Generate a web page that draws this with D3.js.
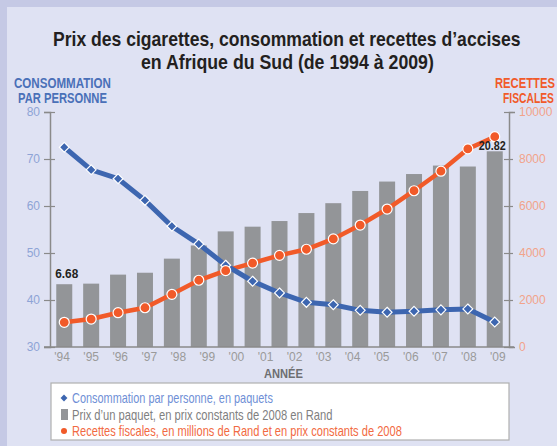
<!DOCTYPE html>
<html>
<head>
<meta charset="utf-8">
<script src="https://cdn.jsdelivr.net/npm/d3@7"></script>
<style>
  body { margin: 0; background: #c5c9e5; }
  svg { display: block; }
  text { font-family: "Liberation Sans", Arial, sans-serif; }
</style>
</head>
<body>
<div id="chart"></div>
<script>
/* Prix des cigarettes, consommation et recettes - Afrique du Sud */

// data points as drawn (17 marks), year labels (16)
const points = d3.range(17);
const yearLabels = ["'94", "'95", "'96", "'97", "'98", "'99", "'00", "'01", "'02", "'03", "'04", "'05", "'06", "'07", "'08", "'09"];
const consumption = [72.5, 67.7, 65.8, 61.2, 55.7, 51.9, 47.4, 44.0, 41.5, 39.5, 39.0, 37.8, 37.4, 37.6, 37.9, 38.1, 35.3];
const price = [6.68, 6.74, 7.7, 7.9, 9.4, 10.8, 12.3, 12.8, 13.4, 14.25, 15.3, 16.6, 17.6, 18.4, 19.3, 19.2, 20.82];
const revenue = [1050, 1190, 1460, 1670, 2240, 2840, 3250, 3570, 3900, 4160, 4600, 5190, 5870, 6650, 7480, 8430, 8950];
const leftTicks = [30, 40, 50, 60, 70, 80];
const rightTicks = [0, 2000, 4000, 6000, 8000, 10000];

const width = 557, height = 446,
      margin = ({ top: 112, right: 48, bottom: 99, left: 50 });

const blue = "#3d66b0", orange = "#f15a29", grey = "#939598";

let svg = d3.select("#chart")
    .append("svg")
    .attr("width", width)
    .attr("height", height);

// condensed look: squeeze text horizontally to a given width
function fit(sel, len) {
    let x0 = +sel.attr("x"), y0 = +sel.attr("y");
    let w = sel.node().getComputedTextLength();
    sel.attr("x", 0).attr("y", 0)
       .attr("transform", `translate(${x0},${y0}) scale(${len / w},1)`);
    return sel;
}

// background panel
svg.append("rect")
    .attr("x", 7).attr("y", 7)
    .attr("width", width - 7).attr("height", height - 7)
    .attr("fill", "#dfe2f3");

let x = d3.scalePoint() // marks
    .domain(points)
    .range([margin.left, width - margin.right])
    .padding(0.53);

let xLab = d3.scalePoint() // year labels
    .domain(yearLabels)
    .range([margin.left, width - margin.right])
    .padding(0.4);

let yLeft = d3.scaleLinear().domain([30, 80]).range([height - margin.bottom, margin.top]);
let yRight = d3.scaleLinear().domain([0, 10000]).range([height - margin.bottom, margin.top]);
let yBar = d3.scaleLinear().domain([0, 25]).range([height - margin.bottom, margin.top]);

// title
fit(svg.append("text")
    .attr("x", 53).attr("y", 46)
    .style("font-size", "20px").style("font-weight", "bold").style("fill", "#231f20")
    .text("Prix des cigarettes, consommation et recettes d’accises"), 468);
fit(svg.append("text")
    .attr("x", 141).attr("y", 69)
    .style("font-size", "20px").style("font-weight", "bold").style("fill", "#231f20")
    .text("en Afrique du Sud (de 1994 à 2009)"), 293);

// axis titles
fit(svg.append("text")
    .attr("x", 14).attr("y", 88)
    .style("font-size", "14px").style("font-weight", "bold").style("fill", "#4a70b8")
    .text("CONSOMMATION"), 97);
fit(svg.append("text")
    .attr("x", 18).attr("y", 103)
    .style("font-size", "14px").style("font-weight", "bold").style("fill", "#4a70b8")
    .text("PAR PERSONNE"), 89);
fit(svg.append("text")
    .attr("x", 495).attr("y", 88)
    .style("font-size", "14px").style("font-weight", "bold").style("fill", orange)
    .text("RECETTES"), 60);
fit(svg.append("text")
    .attr("x", 503).attr("y", 103)
    .style("font-size", "14px").style("font-weight", "bold").style("fill", orange)
    .text("FISCALES"), 51);

// bars
svg.append("g")
    .selectAll("rect")
    .data(points)
    .join("rect")
    .attr("fill", grey)
    .attr("x", i => x(i) - 8)
    .attr("width", 16)
    .attr("y", i => yBar(price[i]))
    .attr("height", i => yBar(0) - yBar(price[i]));

// left axis
let gl = svg.append("g")
    .attr("transform", `translate(${margin.left},0)`)
    .call(d3.axisLeft(yLeft).tickValues(leftTicks).tickSize(6).tickPadding(4));
gl.select(".domain").attr("stroke", "#8a8a8a").attr("stroke-width", 1.5);
gl.selectAll(".tick line").attr("stroke", "#8a8a8a").attr("stroke-width", 1.2).attr("x2", 5).attr("x1", -6);
gl.selectAll(".tick text").style("fill", "#8ea4d6").style("font-size", "12px")
    .style("font-family", "'Liberation Sans', Arial, sans-serif");

// right axis
let gr = svg.append("g")
    .attr("transform", `translate(${width - margin.right},0)`)
    .call(d3.axisRight(yRight).tickValues(rightTicks).tickFormat(d3.format("d")).tickSize(6).tickPadding(4));
gr.select(".domain").attr("stroke", "#8a8a8a").attr("stroke-width", 1.5);
gr.selectAll(".tick line").attr("stroke", "#8a8a8a").attr("stroke-width", 1.2).attr("x1", -5).attr("x2", 4);
gr.selectAll(".tick text").style("fill", "#f2a38a").style("font-size", "12px")
    .style("font-family", "'Liberation Sans', Arial, sans-serif");

// baseline
svg.append("line")
    .attr("x1", 44).attr("x2", width - margin.right + 5)
    .attr("y1", yLeft(30)).attr("y2", yLeft(30))
    .attr("stroke", "#8a8a8a").attr("stroke-width", 1.5);

// year labels
let gx = svg.append("g")
    .attr("transform", `translate(0,${height - margin.bottom})`)
    .call(d3.axisBottom(xLab).tickSize(0).tickPadding(5));
gx.select(".domain").remove();
gx.selectAll(".tick text").style("fill", "#9a9a9a").style("font-size", "12px")
    .style("font-family", "'Liberation Sans', Arial, sans-serif");

fit(svg.append("text")
    .attr("x", 264).attr("y", 378)
    .style("font-size", "13px").style("font-weight", "bold").style("fill", "#6d6e71")
    .text("ANNÉE"), 39);

// revenue line
svg.append("path")
    .datum(points)
    .attr("fill", "none")
    .attr("stroke", orange)
    .attr("stroke-width", 4.5)
    .attr("d", d3.line().x(i => x(i)).y(i => yRight(revenue[i])));

// consumption line
svg.append("path")
    .datum(points)
    .attr("fill", "none")
    .attr("stroke", blue)
    .attr("stroke-width", 5)
    .attr("d", d3.line().x(i => x(i)).y(i => yLeft(consumption[i])));

svg.append("g")
    .selectAll("path")
    .data(points)
    .join("path")
    .attr("d", d3.symbol(d3.symbolDiamond2, 62))
    .attr("transform", i => `translate(${x(i)},${yLeft(consumption[i])})`)
    .attr("fill", blue)
    .attr("stroke", "white")
    .attr("stroke-width", 1.2);

svg.append("g")
    .selectAll("circle")
    .data(points)
    .join("circle")
    .attr("cx", i => x(i))
    .attr("cy", i => yRight(revenue[i]))
    .attr("r", 5)
    .attr("fill", orange)
    .attr("stroke", "white")
    .attr("stroke-width", 1.2);

// value labels
fit(svg.append("text")
    .attr("x", x(0) - 9).attr("y", yBar(price[0]) - 6)
    .style("font-size", "13px").style("font-weight", "bold").style("fill", "#231f20")
    .text("6.68"), 23);
fit(svg.append("text")
    .attr("x", x(16) - 16).attr("y", yBar(price[16]) - 1)
    .style("font-size", "13px").style("font-weight", "bold").style("fill", "#231f20")
    .text("20.82"), 27);

// legend
svg.append("rect")
    .attr("x", 51).attr("y", 383)
    .attr("width", 458).attr("height", 57)
    .attr("fill", "white")
    .attr("stroke", "#b0b0b0").attr("stroke-width", 1.2);

const legendItems = [
    { label: "Consommation par personne, en paquets", color: "#6f8fd6", len: 201 },
    { label: "Prix d’un paquet, en prix constants de 2008 en Rand", color: "#7f7f7f", len: 261 },
    { label: "Recettes fiscales, en millions de Rand et en prix constants de 2008", color: "#f26a42", len: 330 }
];
legendItems.forEach((d, i) => {
    fit(svg.append("text")
        .attr("x", 72).attr("y", 403 + i * 16.5)
        .style("font-size", "14px")
        .style("fill", d.color)
        .text(d.label), d.len);
});

svg.append("path")
    .attr("d", d3.symbol(d3.symbolDiamond2, 30))
    .attr("transform", "translate(64,398)")
    .attr("fill", blue);
svg.append("rect")
    .attr("x", 61).attr("y", 409)
    .attr("width", 7).attr("height", 11)
    .attr("fill", grey);
svg.append("circle")
    .attr("cx", 64).attr("cy", 431)
    .attr("r", 3)
    .attr("fill", orange);
</script>
</body>
</html>
